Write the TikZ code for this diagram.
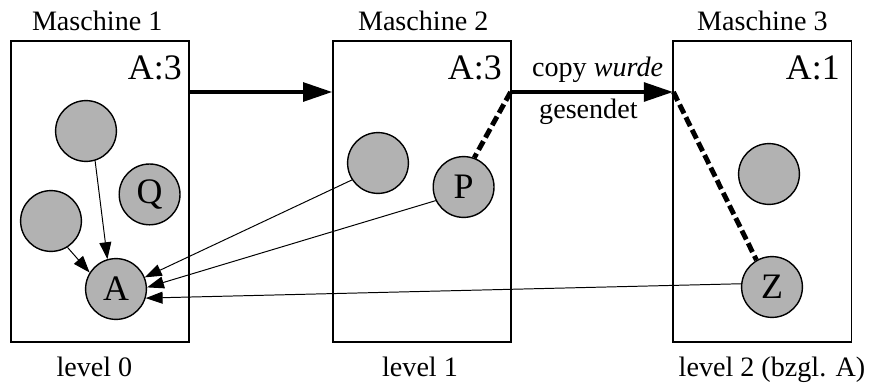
\documentclass[tikz,border=0pt]{standalone}
\usepackage{fontspec}
\setmainfont{Liberation Serif}
\usepackage{tikz}
\usetikzlibrary{shapes}
\usetikzlibrary{arrows.meta}
\usetikzlibrary{positioning}
\tikzstyle{maschine}=[
        rectangle,
        draw,
        line width=1.3pt,
        minimum width=4.45cm,
        minimum height=7.53cm,
        inner sep=0pt
]
\tikzstyle{objekt}=[circle,draw,line width=1pt,fill=black!30,minimum size=1.52cm,inner sep=0pt,font=\fontsize{25.5}{30}\selectfont]
\tikzstyle{beschr}=[anchor=base,inner sep=0pt,font=\fontsize{20}{24}\selectfont]
\tikzstyle{zaehler}=[anchor=base east,inner sep=0pt,font=\fontsize{25.5}{30}\selectfont]
\tikzstyle{senden}=[-{Triangle[length=21pt,width=13pt]},line width=3.5pt]
\tikzstyle{verweis}=[-{Triangle[length=12pt,width=8.5pt]},line width=0.7pt]
\tikzstyle{kopie}=[line width=3.5pt,dash pattern=on 7pt off 3pt]

\begin{document}
\begin{tikzpicture}
\useasboundingbox (0,0) rectangle (21.8,-9.55);
\node[maschine] (m1) at (2.5,-4.78) {};
\node[maschine] (m2) at (10.54,-4.78) {};
\node[maschine] (m3) at (19.06,-4.78) {};
\node[beschr] (t1) at (2.43,-0.75) {Maschine 1};
\node[beschr] (t2) at (10.58,-0.75) {Maschine 2};
\node[beschr] (t3) at (19.06,-0.75) {Maschine 3};
\node[beschr] (l1) at (2.36,-9.42) {level 0};
\node[beschr] (l2) at (10.5,-9.42) {level 1};
\node[beschr] (l3) at (19.3,-9.42) {level 2 (bzgl. A)};
\node[zaehler] (z1) at (4.55,-1.975) {A:3};
\node[zaehler] (z2) at (12.55,-1.975) {A:3};
\node[zaehler] (z3) at (21.0,-1.975) {A:1};
\node[objekt] (k1) at (2.15,-3.275) {};
\node[objekt] (q) at (3.74,-4.86) {Q};
\node[objekt] (k2) at (1.275,-5.525) {};
\node[objekt] (a) at (2.9,-7.225) {A};
\node[objekt] (k3) at (9.45,-4.075) {};
\node[objekt] (p) at (11.59,-4.675) {P};
\node[objekt] (k4) at (19.225,-4.35) {};
\node[objekt] (z) at (19.3,-7.175) {Z};
\coordinate (o1) at (4.725,-2.3);
\coordinate (i2) at (8.315,-2.3);
\coordinate (o2) at (12.765,-2.3);
\coordinate (i3) at (16.835,-2.3);
\node[beschr] (c1) at (14.94,-1.92) {copy \textit{wurde}};
\node[beschr] (c2) at (14.71,-2.95) {gesendet};
%Drawing Edges
\draw[senden] (o1) -- (i2);
\draw[senden] (o2) -- (i3);
\draw[kopie] (o2) -- (p.70);
\draw[kopie] (i3) -- (z.120);
\draw[verweis] (k1.287) -- (a.106);
\draw[verweis] (k2.302) -- (a.148);
\draw[verweis] (k3.213) -- (a.22);
\draw[verweis] (p.206) -- (a.3);
\draw[verweis] (z.174) -- (a.343);
\end{tikzpicture}
\end{document}
